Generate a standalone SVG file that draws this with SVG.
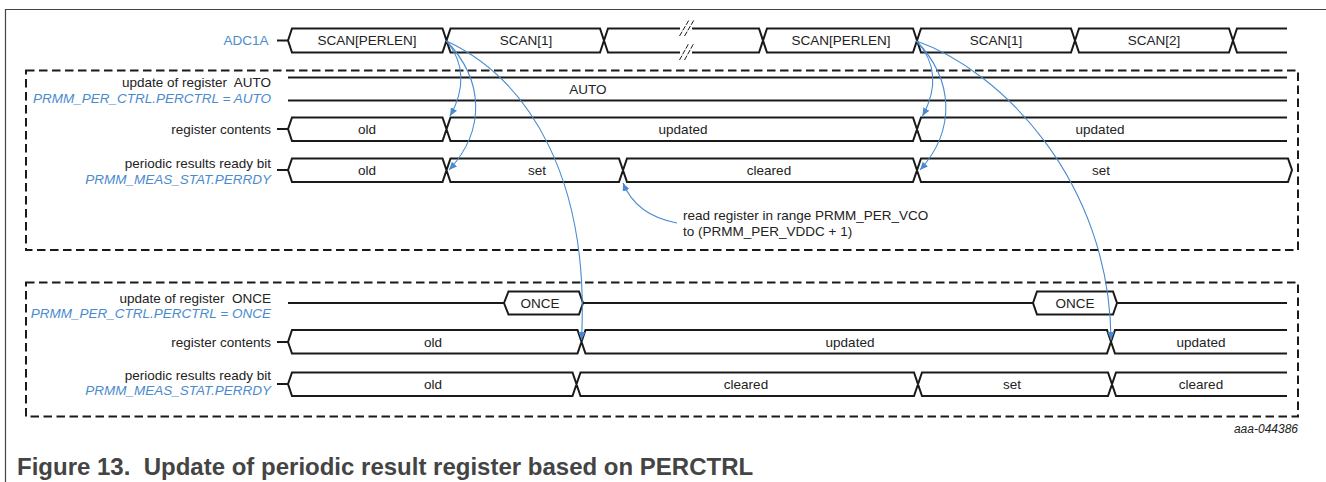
<svg xmlns="http://www.w3.org/2000/svg" width="1326" height="482" viewBox="0 0 1326 482">
<defs>
<style>
text{font-family:"Liberation Sans",Arial,sans-serif;font-size:13.5px;fill:#222;white-space:pre}
.r{text-anchor:end}
.m{text-anchor:middle}
.b{fill:#4a8bd0;font-style:italic}
.bu{fill:#4a8bd0}
.w{fill:none;stroke:#1a1a1a;stroke-width:2}
.d{fill:none;stroke:#1a1a1a;stroke-width:2;stroke-dasharray:8.500 4.500}
.a{fill:none;stroke:#4a8bd0;stroke-width:1.100}
.t{fill:none;stroke:#1a1a1a;stroke-width:1;stroke-dasharray:5 1.500}
.cap{font-size:24px;font-weight:bold;fill:#444}
.id{font-size:12px;font-style:italic}
</style>
<marker id="ah" markerWidth="9" markerHeight="8" refX="8" refY="3.500" orient="auto" markerUnits="userSpaceOnUse"><path d="M0 0L8 3.500L0 7Z" fill="#4a8bd0"/></marker>
</defs>
<rect width="1326" height="482" fill="#fff"/>
<path d="M5.500 482V9.500H1326" fill="none" stroke="#444" stroke-width="1.200"/>
<rect id="box1" class="d" x="26" y="70.500" width="1272" height="179.500"/>
<rect id="box2" class="d" x="26" y="282.500" width="1272" height="134"/>
<g id="row-adc">
<text class="bu r" x="268.500" y="45">ADC1A</text>
<path class="w" d="M277 40.500H288L292 28.500H442.500L450.500 52.500H600L608 28.500H759L767 52.500H913L921 28.500H1071L1079 52.500H1229L1237 28.500H1287M288 40.500L292 52.500H442.500L450.500 28.500H600L608 52.500H759L767 28.500H913L921 52.500H1071L1079 28.500H1229L1237 52.500H1287"/>
<path d="M680 28.500h12M680 52.500h12" stroke="#fff" stroke-width="3"/>
<path class="t" d="M679.500 36L689 20M684.500 36L694 20M679.500 60L689 43M684.500 60L694 43"/>
<text class="m" x="367" y="45">SCAN[PERLEN]</text><text class="m" x="526" y="45">SCAN[1]</text><text class="m" x="841" y="45">SCAN[PERLEN]</text><text class="m" x="996" y="45">SCAN[1]</text><text class="m" x="1154" y="45">SCAN[2]</text>
</g>
<g id="row-auto">
<text class="r" x="271" y="87">update of register  AUTO</text>
<text class="b r" x="271" y="103">PRMM_PER_CTRL.PERCTRL = AUTO</text>
<path class="w" d="M288 77.500H1287M288 100.500H1287"/>
<text class="m" x="588" y="94">AUTO</text>
</g>
<g id="row-reg1">
<text class="r" x="271" y="134">register contents</text>
<path class="w" d="M277 129H288L292 117.500H442.500L450.500 141H913L921 117.500H1287M288 129L292 141H442.500L450.500 117.500H913L921 141H1287"/>
<text class="m" x="367" y="134">old</text><text class="m" x="683" y="134">updated</text><text class="m" x="1100" y="134">updated</text>
</g>
<g id="row-rdy1">
<text class="r" x="271" y="168">periodic results ready bit</text>
<text class="b r" x="271" y="184">PRMM_MEAS_STAT.PERRDY</text>
<path class="w" d="M277 170H288L292 158.500H442.500L450.500 182H619L627 158.500H913L921 182H1288L1292 170L1288 158.500H921L913 182H627L619 158.500H450.500L442.500 182H292L288 170"/>
<text class="m" x="367" y="175">old</text><text class="m" x="537" y="175">set</text><text class="m" x="769" y="175">cleared</text><text class="m" x="1101" y="175">set</text>
</g>
<g id="note"><text x="683" y="220">read register in range PRMM_PER_VCO</text><text x="683" y="236">to (PRMM_PER_VDDC + 1)</text></g>
<g id="row-once">
<text class="r" x="271" y="303">update of register  ONCE</text>
<text class="b r" x="271" y="318">PRMM_PER_CTRL.PERCTRL = ONCE</text>
<path class="w" d="M288 303H504M583 303H1033M1117 303H1287M504 303L508.500 291.500H579L583 303L579 314.500H508.500ZM1033 303L1037 291.500H1113L1117 303L1113 314.500H1037Z"/>
<text class="m" x="540" y="308">ONCE</text><text class="m" x="1075" y="308">ONCE</text>
</g>
<g id="row-reg2">
<text class="r" x="271" y="347">register contents</text>
<path class="w" d="M277 342H288L292 330H577.500L585.500 353.500H1107L1115 330H1287M288 342L292 353.500H577.500L585.500 330H1107L1115 353.500H1287"/>
<text class="m" x="433" y="347">old</text><text class="m" x="850" y="347">updated</text><text class="m" x="1201" y="347">updated</text>
</g>
<g id="row-rdy2">
<text class="r" x="271" y="380">periodic results ready bit</text>
<text class="b r" x="271" y="395">PRMM_MEAS_STAT.PERRDY</text>
<path class="w" d="M277 384H288L292 372.500H572.500L580.500 396H914L922 372.500H1108L1116 396H1287M288 384L292 396H572.500L580.500 372.500H914L922 396H1108L1116 372.500H1287"/>
<text class="m" x="433" y="389">old</text><text class="m" x="746" y="389">cleared</text><text class="m" x="1012" y="389">set</text><text class="m" x="1201" y="389">cleared</text>
</g>
<g id="connectors">
<path class="a" marker-end="url(#ah)" d="M446.500 41C464 62 466 88 450 116"/>
<path class="a" marker-end="url(#ah)" d="M446.500 41C484 80 486 130 449 170"/>
<path class="a" marker-end="url(#ah)" d="M446.500 41C530 80 590 180 581.500 340"/>
<path class="a" marker-end="url(#ah)" d="M916.500 41C936 62 938 88 922.500 116"/>
<path class="a" marker-end="url(#ah)" d="M916.500 41C954 80 956 130 920 170"/>
<path class="a" marker-end="url(#ah)" d="M916.500 41C1000 70 1110 180 1111 340"/>
<path class="a" marker-end="url(#ah)" d="M677 223C650 218 632 205 623 183"/>
</g>
<text x="1298" y="433" class="r id">aaa-044386</text>
<text class="cap" x="17" y="475">Figure 13.  Update of periodic result register based on PERCTRL</text>
</svg>
